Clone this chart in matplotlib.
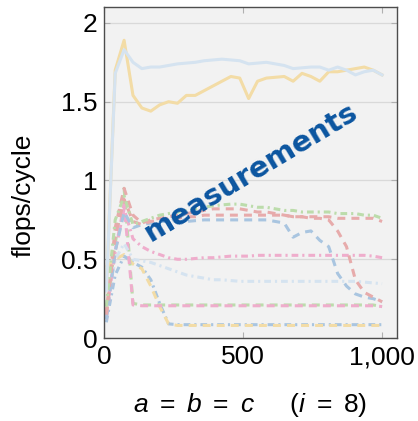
import numpy as np
import matplotlib
matplotlib.use("Agg")
import matplotlib.pyplot as plt

plt.rcParams['font.family'] = ['Liberation Sans', 'DejaVu Sans']
plt.rcParams['mathtext.fontset'] = 'custom'
plt.rcParams['mathtext.rm'] = 'Liberation Sans'
plt.rcParams['mathtext.it'] = 'Liberation Sans:italic'

# problem size n (a = b = c)
n = [8, 40, 72, 104, 136, 168, 200, 232, 264, 296, 328, 360, 392, 424, 456, 488,
     520, 552, 584, 616, 648, 680, 712, 744, 776, 808, 840, 872, 904, 936, 968, 1000]

# flops/cycle per implementation
solid_blue = [0.30, 1.68, 1.83, 1.75, 1.71, 1.72, 1.72, 1.73, 1.74, 1.745, 1.75, 1.76,
              1.765, 1.77, 1.765, 1.76, 1.74, 1.745, 1.75, 1.74, 1.73, 1.71, 1.715, 1.72,
              1.72, 1.70, 1.72, 1.70, 1.67, 1.69, 1.70, 1.67]
solid_yellow = [0.30, 1.70, 1.89, 1.54, 1.46, 1.44, 1.48, 1.50, 1.49, 1.54, 1.54, 1.57,
                1.60, 1.63, 1.66, 1.65, 1.52, 1.63, 1.65, 1.655, 1.66, 1.63, 1.68, 1.66,
                1.63, 1.69, 1.69, 1.70, 1.71, 1.72, 1.70, 1.67]
dashed_steel = [0.12, 0.55, 0.80, 0.70, 0.72, 0.73, 0.74, 0.74, 0.74, 0.74, 0.745, 0.75,
                0.75, 0.75, 0.75, 0.75, 0.75, 0.75, 0.75, 0.74, 0.73, 0.64, 0.67, 0.68,
                0.62, 0.58, 0.41, 0.33, 0.28, 0.26, 0.25, 0.23]
dashed_red_hi = [0.15, 0.70, 0.95, 0.78, 0.73, 0.75, 0.76, 0.77, 0.78, 0.79, 0.80, 0.81,
                 0.82, 0.82, 0.82, 0.82, 0.81, 0.80, 0.80, 0.79, 0.78, 0.77, 0.77, 0.77,
                 0.77, 0.77, 0.76, 0.76, 0.76, 0.76, 0.76, 0.74]
dashed_red_lo = [0.15, 0.65, 0.88, 0.74, 0.72, 0.74, 0.75, 0.76, 0.76, 0.77, 0.77, 0.78,
                 0.78, 0.78, 0.78, 0.78, 0.78, 0.78, 0.78, 0.78, 0.78, 0.77, 0.77, 0.76,
                 0.76, 0.75, 0.68, 0.58, 0.37, 0.29, 0.26, 0.23]
dashdot_green = [0.20, 0.75, 0.90, 0.72, 0.74, 0.76, 0.78, 0.79, 0.80, 0.81, 0.82, 0.83,
                 0.84, 0.845, 0.85, 0.85, 0.84, 0.83, 0.83, 0.82, 0.81, 0.81, 0.80, 0.80,
                 0.80, 0.80, 0.79, 0.79, 0.79, 0.78, 0.78, 0.76]
dashdot_pink = [0.15, 0.55, 0.82, 0.63, 0.58, 0.55, 0.53, 0.51, 0.50, 0.50, 0.505, 0.51,
                0.51, 0.515, 0.52, 0.52, 0.52, 0.525, 0.525, 0.525, 0.525, 0.525, 0.525, 0.525,
                0.525, 0.525, 0.525, 0.525, 0.525, 0.525, 0.52, 0.51]
dashdot_lightblue = [0.20, 0.50, 0.60, 0.50, 0.49, 0.48, 0.46, 0.44, 0.42, 0.40, 0.39, 0.38,
                     0.37, 0.37, 0.365, 0.36, 0.36, 0.36, 0.36, 0.36, 0.36, 0.36, 0.36, 0.36,
                     0.36, 0.36, 0.36, 0.36, 0.36, 0.355, 0.35, 0.345]
dashed_green = [0.15, 0.60, 0.95, 0.22, 0.21, 0.21, 0.21, 0.21, 0.21, 0.21, 0.21, 0.21,
                0.21, 0.21, 0.21, 0.21, 0.21, 0.21, 0.21, 0.21, 0.21, 0.21, 0.21, 0.21,
                0.21, 0.21, 0.21, 0.21, 0.21, 0.21, 0.21, 0.20]
dashed_pink = [0.12, 0.55, 0.85, 0.21, 0.205, 0.205, 0.205, 0.205, 0.205, 0.205, 0.205, 0.205,
               0.205, 0.205, 0.205, 0.205, 0.205, 0.205, 0.205, 0.205, 0.205, 0.205, 0.205, 0.205,
               0.205, 0.205, 0.205, 0.205, 0.205, 0.205, 0.205, 0.20]
dashed_yellow = [0.45, 0.50, 0.53, 0.47, 0.44, 0.33, 0.20, 0.09, 0.08, 0.08, 0.08, 0.08,
                 0.08, 0.08, 0.08, 0.08, 0.08, 0.08, 0.08, 0.08, 0.08, 0.08, 0.08, 0.08,
                 0.08, 0.08, 0.08, 0.08, 0.08, 0.08, 0.08, 0.08]
dashdot_steel = [0.10, 0.40, 0.52, 0.48, 0.45, 0.37, 0.22, 0.09, 0.085, 0.085, 0.085, 0.085,
                 0.085, 0.085, 0.085, 0.085, 0.085, 0.085, 0.085, 0.085, 0.085, 0.085, 0.085, 0.085,
                 0.085, 0.085, 0.085, 0.085, 0.085, 0.085, 0.085, 0.085]

DASH = (0, (2.6, 2))
DASHDOT = (0, (2.2, 1.3, 0.7, 1.3))

series = [
    (dashdot_steel, '#a9c5e0', DASHDOT),
    (dashed_yellow, '#f3dca6', DASH),
    (dashed_green, '#bcdcab', DASH),
    (dashed_pink, '#efadcc', DASH),
    (dashdot_lightblue, '#d5e3f0', DASHDOT),
    (dashdot_pink, '#efadcc', DASHDOT),
    (dashed_steel, '#a9c5e0', DASH),
    (dashed_red_lo, '#e7abab', DASH),
    (dashed_red_hi, '#e7abab', DASH),
    (dashdot_green, '#bcdcab', DASHDOT),
    (solid_yellow, '#f3dca6', '-'),
    (solid_blue, '#d5e3f0', '-'),
]

fig = plt.figure(figsize=(4.18, 4.21), dpi=100)
ax = fig.add_axes([0.249, 0.197, 0.701, 0.786])
ax.set_facecolor('#f2f2f2')

for vals, col, ls in series:
    ax.plot(n, vals, color=col, linestyle=ls, linewidth=2.2)

ax.set_xlim(0, 1054)
ax.set_ylim(0, 2.1)
ax.set_xticks([0, 500, 1000])
ax.set_xticklabels(['0', '500', '1,000'])
ax.set_yticks([0, 0.5, 1, 1.5, 2])
ax.set_yticklabels(['0', '0.5', '1', '1.5', '2'])
ax.yaxis.grid(True, color='#d9d9d9', linewidth=0.9)
ax.set_axisbelow(True)
ax.tick_params(direction='in', top=True, right=True, length=4, color='#b0b0b0',
               labelsize=19, pad=5)
for s in ax.spines.values():
    s.set_color('#4d4d4d')
    s.set_linewidth(1.0)

ax.set_ylabel('flops/cycle', fontsize=19)
ax.yaxis.set_label_coords(-0.235, 0.43)
ax.set_xlabel(r'$a\ =\ b\ =\ c\quad\ \ (i\ =\ 8)$', fontsize=19)
ax.xaxis.set_label_coords(0.5, -0.16)

ax.text(530, 1.05, 'measurements', rotation=31, ha='center', va='center',
        fontsize=21, fontweight='bold', color='#0b55a0', family='DejaVu Sans')

fig.savefig('out.png', dpi=100)
